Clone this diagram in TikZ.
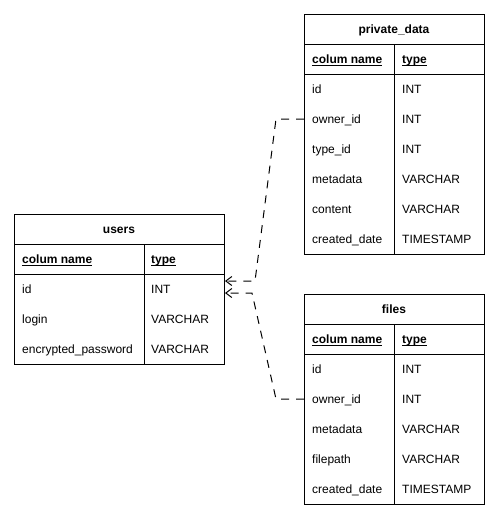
\documentclass[tikz,border=0pt]{standalone}
\usepackage{fontspec}
\setmainfont{Liberation Sans}
\usetikzlibrary{arrows.meta}
\newcommand{\myul}[1]{\setbox0\hbox{#1}\rlap{\rule[-2.2pt]{\wd0}{0.9pt}}\box0}
\begin{document}
\begin{tikzpicture}[x=1pt,y=-1pt,
  tbl/.style={draw, line width=1pt, inner sep=0pt, anchor=north west},
  hdr/.style={font=\fontsize{12}{14}\selectfont\bfseries, inner sep=0pt, anchor=base},
  colh/.style={anchor=base west, inner sep=0pt, font=\fontsize{12}{14}\selectfont\bfseries},
  cell/.style={anchor=base west, inner sep=0pt, font=\fontsize{12}{14}\selectfont},
  rule/.style={line width=1pt},
  rel/.style={line width=1pt, dash pattern=on 8pt off 7pt, -{Straight Barb[length=6pt,width=9pt,line width=1pt]}}
]
\useasboundingbox (0,0) rectangle (498,525);

% ---------- users ----------
\node[tbl, minimum width=210pt, minimum height=150pt] (users) at (14,214) {};
\draw[rule] ([yshift=-30pt]users.north west) -- ([yshift=-30pt]users.north east);
\draw[rule] ([yshift=-60pt]users.north west) -- ([yshift=-60pt]users.north east);
\draw[rule] ([xshift=130pt,yshift=-30pt]users.north west) -- ([xshift=130pt]users.south west);
\node[hdr] (users-h) at (119,233.5) {users};
\node[colh] (users-c1) at (22,263.5) {\myul{colum name}};
\node[colh] (users-c2) at (151,263.5) {\myul{type}};
\node[cell] (u-id) at (22,293.5) {id};
\node[cell] (u-id-t) at (151,293.5) {INT};
\node[cell] (u-login) at (22,323.5) {login};
\node[cell] (u-login-t) at (151,323.5) {VARCHAR};
\node[cell] (u-pw) at (22,353.5) {encrypted\_password};
\node[cell] (u-pw-t) at (151,353.5) {VARCHAR};

% ---------- private_data ----------
\node[tbl, minimum width=180pt, minimum height=240pt] (pd) at (304,14) {};
\draw[rule] ([yshift=-30pt]pd.north west) -- ([yshift=-30pt]pd.north east);
\draw[rule] ([yshift=-60pt]pd.north west) -- ([yshift=-60pt]pd.north east);
\draw[rule] ([xshift=90pt,yshift=-30pt]pd.north west) -- ([xshift=90pt]pd.south west);
\node[hdr] (pd-h) at (394,33.5) {private\_data};
\node[colh] (pd-c1) at (312,63.5) {\myul{colum name}};
\node[colh] (pd-c2) at (402,63.5) {\myul{type}};
\node[cell] (pd-id) at (312,93.5) {id};
\node[cell] (pd-id-t) at (402,93.5) {INT};
\node[cell] (pd-owner) at (312,123.5) {owner\_id};
\node[cell] (pd-owner-t) at (402,123.5) {INT};
\node[cell] (pd-type) at (312,153.5) {type\_id};
\node[cell] (pd-type-t) at (402,153.5) {INT};
\node[cell] (pd-meta) at (312,183.5) {metadata};
\node[cell] (pd-meta-t) at (402,183.5) {VARCHAR};
\node[cell] (pd-content) at (312,213.5) {content};
\node[cell] (pd-content-t) at (402,213.5) {VARCHAR};
\node[cell] (pd-created) at (312,243.5) {created\_date};
\node[cell] (pd-created-t) at (402,243.5) {TIMESTAMP};

% ---------- files ----------
\node[tbl, minimum width=180pt, minimum height=210pt] (files) at (304,294) {};
\draw[rule] ([yshift=-30pt]files.north west) -- ([yshift=-30pt]files.north east);
\draw[rule] ([yshift=-60pt]files.north west) -- ([yshift=-60pt]files.north east);
\draw[rule] ([xshift=90pt,yshift=-30pt]files.north west) -- ([xshift=90pt]files.south west);
\node[hdr] (f-h) at (394,313.5) {files};
\node[colh] (f-c1) at (312,343.5) {\myul{colum name}};
\node[colh] (f-c2) at (402,343.5) {\myul{type}};
\node[cell] (f-id) at (312,373.5) {id};
\node[cell] (f-id-t) at (402,373.5) {INT};
\node[cell] (f-owner) at (312,403.5) {owner\_id};
\node[cell] (f-owner-t) at (402,403.5) {INT};
\node[cell] (f-meta) at (312,433.5) {metadata};
\node[cell] (f-meta-t) at (402,433.5) {VARCHAR};
\node[cell] (f-path) at (312,463.5) {filepath};
\node[cell] (f-path-t) at (402,463.5) {VARCHAR};
\node[cell] (f-created) at (312,493.5) {created\_date};
\node[cell] (f-created-t) at (402,493.5) {TIMESTAMP};

% ---------- relations ----------
\coordinate (u-in1) at (225,281);
\coordinate (u-in2) at (225,293);
\draw[rel] ([yshift=4.5pt]pd.west |- pd-owner.base) -- ++(-28,0) -- ([xshift=30pt]u-in1) -- (u-in1);
\draw[rel] ([yshift=4.5pt]files.west |- f-owner.base) -- ++(-28,0) -- ([xshift=27pt]u-in2) -- (u-in2);
\end{tikzpicture}
\end{document}
